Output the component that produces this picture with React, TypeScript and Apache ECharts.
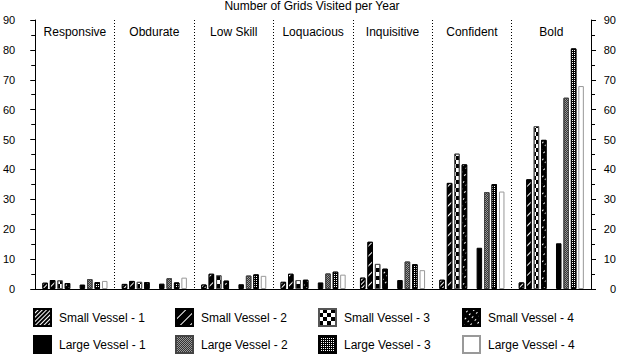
import React, { useEffect, useRef } from 'react';
import * as echarts from 'echarts';

const categories = ['Responsive', 'Obdurate', 'Low Skill', 'Loquacious', 'Inquisitive', 'Confident', 'Bold'];
const seriesNames = [
  'Small Vessel - 1', 'Small Vessel - 2', 'Small Vessel - 3', 'Small Vessel - 4',
  'Large Vessel - 1', 'Large Vessel - 2', 'Large Vessel - 3', 'Large Vessel - 4',
];
const smallVessel1 = [2.1, 1.7, 1.5, 2.4, 3.8, 3.1, 2.2];
const smallVessel2 = [3.0, 2.7, 5.1, 5.1, 15.8, 35.5, 36.7];
const smallVessel3 = [2.9, 2.4, 4.6, 3.0, 8.4, 45.3, 54.5];
const smallVessel4 = [2.0, 2.3, 2.8, 3.1, 6.8, 41.7, 49.9];
const largeVessel1 = [1.5, 1.8, 1.6, 2.2, 3.0, 13.8, 15.3];
const largeVessel2 = [3.3, 3.6, 4.5, 5.2, 9.2, 32.4, 64.0];
const largeVessel3 = [2.3, 2.2, 4.9, 5.8, 8.3, 35.1, 80.5];
const largeVessel4 = [2.7, 3.8, 4.4, 4.8, 6.3, 32.6, 67.9];
const yMin = 0;
const yMax = 90;
const yInterval = 10;

const FONT = 'Liberation Sans, Arial, sans-serif';

export default function App() {
  const ref = useRef<HTMLDivElement>(null);
  useEffect(() => {
    document.body.style.margin = '0';
    const chart = echarts.init(ref.current!, null, { renderer: 'svg' });
    const values = [smallVessel1, smallVessel2, smallVessel3, smallVessel4, largeVessel1, largeVessel2, largeVessel3, largeVessel4];
    const styles: any[] = [
      { color: '#000', borderColor: '#000', decal: { symbol: 'rect', symbolSize: 1, color: '#fff', dashArrayX: [10, 0], dashArrayY: [1, 2], rotation: -Math.PI / 4 } },
      { color: '#000', borderColor: '#000', decal: { symbol: 'rect', symbolSize: 1, color: '#fff', dashArrayX: [10, 0], dashArrayY: [1, 6], rotation: -Math.PI / 4 } },
      { color: '#fff', borderColor: '#555', decal: { symbol: 'rect', symbolSize: 1, color: '#000', dashArrayX: [[4, 4], [0, 4, 4, 0]], dashArrayY: [4, 0] } },
      { color: '#000', borderColor: '#000', decal: { symbol: 'rect', symbolSize: 1, color: '#fff', dashArrayX: [2, 4], dashArrayY: [1, 3], rotation: -Math.PI / 4 } },
      { color: '#000', borderColor: '#000' },
      { color: '#999', borderColor: '#444', decal: { symbol: 'rect', symbolSize: 1, color: '#333', dashArrayX: [[1, 1], [0, 1, 1, 0]], dashArrayY: [1, 0] } },
      { color: '#000', borderColor: '#000', decal: { symbol: 'rect', symbolSize: 1, color: '#fff', dashArrayX: [1, 1], dashArrayY: [1, 1] } },
      { color: '#fff', borderColor: '#999' },
    ];
    const barSeries: any[] = [];
    for (let i = 0; i < 8; i++) {
      if (i === 4) {
        barSeries.push({
          type: 'bar', name: 'gap', data: categories.map(() => null),
          barGap: '35%', barCategoryGap: '18%', itemStyle: { color: 'transparent' },
        });
      }
      barSeries.push({
        type: 'bar', name: seriesNames[i], data: values[i],
        barGap: '35%', barCategoryGap: '18%',
        itemStyle: { ...styles[i], borderWidth: 1 },
      });
    }
    const legendLeft = [33, 175, 318, 462];
    const legendTop = [308, 335];
    const legends = seriesNames.map((n, i) => ({
      data: [n],
      left: legendLeft[i % 4],
      top: legendTop[Math.floor(i / 4)],
      itemWidth: 17,
      itemHeight: 17,
      icon: 'rect',
      padding: 0,
      selectedMode: false,
      itemGap: 0,
      textStyle: { fontSize: 12, color: '#000', fontFamily: FONT, padding: [0, 0, 0, 3] },
    }));
    const yAxisBase = {
      type: 'value', min: yMin, max: yMax, interval: yInterval,
      axisLine: { show: true, lineStyle: { color: '#000', width: 1 } },
      axisTick: { show: true, length: 5, lineStyle: { color: '#000' } },
      minorTick: { show: true, splitNumber: 2, length: 4, lineStyle: { color: '#000' } },
      splitLine: { show: false },
    };
    chart.setOption({
      animation: false,
      backgroundColor: '#fff',
      title: {
        text: 'Number of Grids Visited per Year', left: 'center', top: 0, padding: 0,
        textStyle: { fontSize: 12, fontWeight: 'normal', color: '#000', fontFamily: FONT },
      },
      legend: legends,
      grid: { left: 33, right: 33, top: 20, bottom: 75, containLabel: false },
      xAxis: [
        {
          type: 'category', data: categories, position: 'bottom',
          axisLine: { show: true, lineStyle: { color: '#000', width: 1 } },
          axisTick: { show: false }, axisLabel: { show: false }, splitLine: { show: false },
        },
        {
          type: 'category', data: categories, position: 'top',
          axisLine: { show: true, lineStyle: { color: '#000', width: 1 } },
          axisTick: { show: false, interval: 0 },
          axisLabel: { show: true, interval: 0, inside: true, margin: 6, fontSize: 12, color: '#000', fontFamily: FONT },
          splitLine: { show: true, interval: 0, lineStyle: { color: '#000', type: [1, 2], width: 1 } },
        },
      ],
      yAxis: [
        { ...yAxisBase, position: 'left', axisLabel: { margin: 20, fontSize: 11, color: '#000', fontFamily: FONT } },
        { ...yAxisBase, position: 'right', axisLabel: { margin: 25, align: 'right', fontSize: 11, color: '#000', fontFamily: FONT } },
      ],
      series: barSeries,
    });
    return () => chart.dispose();
  }, []);
  return <div ref={ref} style={{ width: 624, height: 364 }} />;
}
